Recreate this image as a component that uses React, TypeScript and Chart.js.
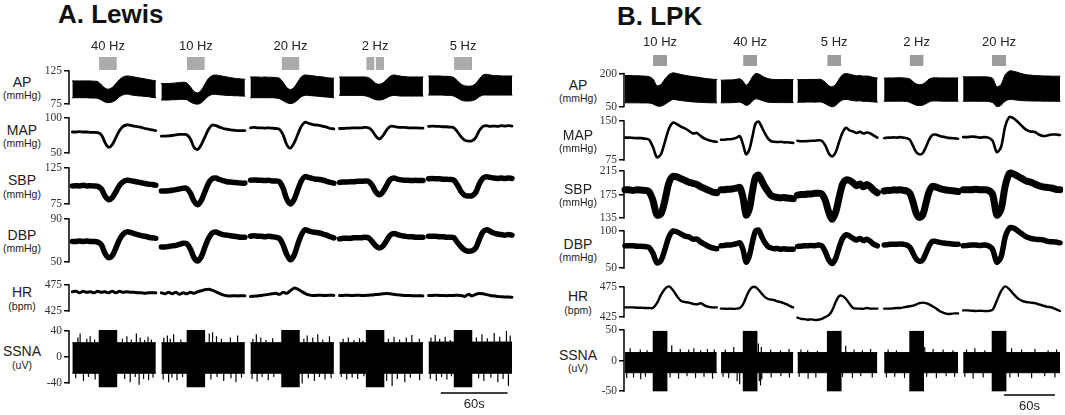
import React, { useEffect, useRef } from "react";
import { Chart, registerables } from "chart.js";

Chart.register(...registerables);

// ======================= DATA =======================
const panelTitles = ["A. Lewis", "B. LPK"];
const rowNames = ["AP", "MAP", "SBP", "DBP", "HR", "SSNA"];
const rowUnits = ["(mmHg)", "(mmHg)", "(mmHg)", "(mmHg)", "(bpm)", "(uV)"];

const freqLabelsA = ["40 Hz", "10 Hz", "20 Hz", "2 Hz", "5 Hz"];
const freqLabelsB = ["10 Hz", "40 Hz", "5 Hz", "2 Hz", "20 Hz"];

// recording segments (seconds on a common time axis)
const segStartA = [0, 80, 160, 240, 320];
const segLenA = [75, 75, 75, 75, 75];
const segStartB = [0, 113, 203, 305, 398];
const segLenB = [108, 85, 94, 87, 114];

// stimulation periods (seconds from segment start)
const stimOnA = [24, 23, 28, 24, 23];
const stimOffA = [40, 39, 44, 40, 39];
const stimSplitA = [false, false, false, true, false];
const stimEdgeA = [false, false, false, false, true];
const stimOnB = [33, 26, 35, 30, 34];
const stimOffB = [49.5, 42.5, 51.5, 46.5, 50.5];
const stimSplitB = [false, false, false, false, false];
const stimEdgeB = [false, false, false, false, false];

// 60 s scale bars (seconds)
const scaleBarA = [331, 391];
const scaleBarB = [446, 506];
const scaleBarLabel = "60s";

// tick labels per row and the visible value window per row
const yTicksA = [[75, 125], [50, 100], [75, 125], [50, 90], [425, 475], [-40, 0, 40]];
const yViewA = [[75, 125], [50, 100], [75, 125], [50, 90], [425, 475], [-40, 40]];
const yTicksB = [[50, 200], [75, 150], [135, 175, 215], [50, 100], [425, 475], [-50, 0, 50]];
const yViewB = [[48, 216], [75, 150], [135, 215], [50, 100], [425, 475], [-50, 50]];

// ---------- Panel A (Lewis) ----------
const apHiA = [
  [110, 110, 110, 110, 110, 110, 109.5, 109, 104, 99, 97.5, 100, 106, 112, 116, 117.5, 117, 116, 115, 114, 113, 112, 111, 110],
  [106, 106, 106, 106.5, 107, 107.5, 108, 107, 101, 94, 92, 96, 105, 114, 118, 119, 118, 117, 116, 115, 114, 113.5, 113, 112.5],
  [116, 116, 116, 115.5, 116, 115.5, 115.5, 115, 114, 108, 100, 97, 100, 108, 116, 119, 118.5, 118, 117, 116.5, 116, 115, 114.5, 114],
  [116, 116, 116, 116, 116, 116, 116, 116, 115, 111, 106, 105, 107, 112, 117, 119, 118, 117, 116.5, 116, 116, 116, 116, 116],
  [117.5, 117.5, 117.5, 117.5, 117, 117, 116.5, 115, 110, 105, 102.5, 102, 102.5, 106, 113, 119, 120, 119, 118, 118, 117.5, 117.5, 117.5, 117.5],
];
const apLoA = [
  [84.5, 84.5, 84.5, 84.5, 84.5, 84, 84, 83.5, 81, 78, 77, 78, 81, 86, 89, 90, 89, 88, 87.5, 87, 86.5, 86, 85, 84.5],
  [81, 81, 81, 81.5, 81.5, 82, 82, 81.5, 78, 75.5, 74.5, 77, 82, 87, 89.5, 89.5, 89, 88.5, 88, 88, 87.5, 87.5, 87, 87],
  [84.5, 84.5, 84.5, 84.5, 84.5, 84.5, 84.5, 84, 83, 80, 77, 75.5, 77, 81, 86, 88, 88, 87.5, 87, 86.5, 86, 85.5, 85, 84.5],
  [88, 88, 88, 88, 88, 88, 88, 87.5, 86, 83.5, 81.5, 81, 82, 84.5, 87, 88, 87.5, 87, 87, 87, 87, 87, 87, 87],
  [88.5, 88.5, 88.5, 88.5, 88.5, 88, 88, 87, 84, 81, 79.5, 79.5, 80, 82, 86, 88.5, 88.5, 88.5, 88.5, 88.5, 88.5, 88.5, 88.5, 88.5],
];
const mapA = [
  [80, 80, 80.5, 80, 80, 79.5, 79.5, 79, 76, 65, 58, 62, 72, 82, 88, 90, 89.5, 88.5, 87.5, 86.5, 85, 84, 83, 82],
  [74, 74, 74.5, 75, 76, 76.5, 76.5, 76, 70, 58, 55, 62, 73, 84, 90, 89, 87, 85, 84, 83, 82.5, 82, 82, 82],
  [86, 86.5, 86, 86, 85.5, 86, 85.5, 85, 84, 76, 62, 57, 64, 76, 88, 94, 92.5, 91, 90, 89.5, 88, 87, 85, 84.5],
  [85, 85, 85.5, 85.5, 86, 86, 86, 86.5, 86, 82, 74, 70, 75, 83, 88, 88, 87, 86.5, 86.5, 86, 86, 86, 85.5, 85.5],
  [88, 88.5, 88, 88, 87.5, 87.5, 87, 86, 80, 73, 68, 67, 67.5, 72, 82, 88, 89, 88, 88.5, 88, 89, 88.5, 89, 88.5],
];
const sbpA = [
  [100, 100.5, 100, 101, 100, 100.5, 100, 99.5, 96, 86, 81, 84, 92, 101, 106, 108, 107.5, 106.5, 105.5, 104.5, 103.5, 102.5, 102, 101],
  [93, 93, 93.5, 94, 95, 96, 97, 96.5, 90, 79, 74, 80, 92, 104, 110, 111, 109, 107.5, 106, 105.5, 105, 104.5, 104, 104],
  [108, 108.5, 108, 108, 107.5, 108, 107, 107, 106, 97, 82, 75, 81, 94, 107, 113, 112, 110.5, 109.5, 109, 108, 106.5, 105, 104],
  [105, 105.5, 105.5, 106, 106, 106.5, 106.5, 107, 106.5, 101, 92, 88, 92, 101, 109, 111, 109.5, 108.5, 108, 108, 107.5, 108, 107.5, 107.5],
  [110, 110.5, 110, 110, 109.5, 109.5, 109, 108, 101, 92, 87, 86, 86.5, 91, 103, 111, 113, 112, 111, 110.5, 111, 110.5, 111, 110.5],
];
const dbpA = [
  [69, 69, 69.5, 69, 69.5, 69, 69, 68.5, 66, 58, 54, 56, 63, 71, 76, 78, 77.5, 76.5, 75.5, 74.5, 74, 73, 72.5, 72],
  [64, 64, 64.5, 65, 65.5, 66.5, 67.5, 67, 62, 54, 51, 55, 64, 72, 77, 78, 76.5, 75.5, 75, 74.5, 74, 73.5, 73, 73],
  [74, 74.5, 74, 74, 73.5, 74, 73.5, 73, 72, 66, 57, 52, 56, 66, 75, 80, 79, 78, 77.5, 77, 76, 75, 73.5, 72.5],
  [71.5, 72, 72, 72, 72.5, 72.5, 72.5, 73, 72.5, 69, 65, 63, 65, 70, 75, 76.5, 75.5, 74.5, 74, 73.5, 73.5, 73, 73, 73],
  [74, 74, 74, 73.5, 73.5, 73, 73, 72.5, 68, 64, 61, 60, 60.5, 63, 71, 78, 80, 78.5, 77, 76, 75.5, 75, 75.5, 75],
];
const hrA = [
  [462, 463, 460, 463, 461, 462, 460, 463, 461, 462, 460, 463, 460, 463, 461, 462, 461, 461, 460, 460, 459, 460, 460, 460],
  [460, 458, 461, 458, 461, 457, 460, 458, 461, 459, 462, 464, 466, 467, 465, 462, 459, 456, 454.5, 454, 454.5, 454, 454.5, 454.5],
  [453, 453.5, 454, 455, 456, 457, 458, 459, 457, 461, 459, 464, 469, 467, 463, 459, 456, 455, 455, 455.5, 455, 455, 455.5, 455],
  [455, 455, 455.5, 455, 455, 455.5, 455, 455, 455.5, 456, 456.5, 457, 458, 458.5, 458, 457, 456, 455.5, 455, 455, 454.5, 454.5, 454.5, 454],
  [455, 455, 455.5, 455, 455, 454.5, 455, 455, 455.5, 455, 453, 457, 454, 457, 458.5, 458, 456.5, 455, 454, 453, 452.5, 452, 452, 451.5],
];
const ssnaCoreHiA = [22, 22, 22, 22, 23];
const ssnaCoreLoA = [-25, -25, -25, -25, -25];
const ssnaBurstHiA = [41, 41, 41, 41, 41];
const ssnaBurstLoA = [-46, -46, -46, -46, -46];
const ssnaSpikesA: number[][][] = [
  [[3, -32], [5, 30], [7, 36], [10, -36], [13, 28], [14.5, -30], [16, 32], [20, 27], [20.5, -34], [45, 28], [47, -33], [49, 32], [52, -38], [53, 27], [56.5, -30], [57.5, 36], [60, -42], [61, 30], [64, -33], [65, 26], [68, 31], [68.5, -35], [71, 27], [72.5, -31]],
  [[1.6, -34], [2.2, 30], [5.4, 33], [6.5, -38], [8, 28], [9.5, -31], [11, 35], [14, -35], [17.5, 27], [19, -30], [43, 36], [44.5, -34], [46, 38], [49.5, 32], [50, -30], [54, 28], [56, -36], [62, 30], [62.5, -32], [67, -38], [68.5, 33], [72, -31]],
  [[1.5, -33], [2.2, 28], [5.3, 35], [6, -37], [9.3, 30], [10.5, -30], [14, 26], [16, -35], [20, 29], [21, -30], [46.5, -40], [48, 28], [51, 33], [52, -32], [56, 30], [57.5, -36], [60.5, 35], [62, -30], [65, 27], [67, -34], [71, 32], [72.5, -32]],
  [[1.6, -30], [3.3, 28], [6.5, -34], [8, 30], [11.4, -31], [13, 26], [16.3, -33], [18, 29], [21, 25], [22, -29], [42.4, -36], [44, 28], [47.3, -44], [49, 31], [52, -33], [54, 27], [58.7, -38], [60, 30], [63.6, -31], [65, 34], [71.7, 28], [72, -35]],
  [[1.6, -33], [2.2, 30], [6, 34], [7, -36], [10, 28], [11.7, -30], [15, 31], [16.5, -34], [19.6, 26], [20.6, -29], [43, 30], [45, -32], [48, 35], [49.7, -36], [52.8, 29], [56, -31], [59, 37], [62.3, -38], [64, 31], [67, -33], [70, 40], [71.8, -44], [73.4, 33]],
];

// ---------- Panel B (LPK) ----------
const apHiB = [
  [191, 191, 190, 190, 189, 188, 186, 175, 145, 150, 175, 195, 203, 200, 196, 192, 189, 186, 184, 181, 178, 176, 174, 173],
  [170, 170, 171, 171, 172, 174, 176, 165, 147, 160, 185, 200, 198, 190, 182, 177, 174, 173, 173, 172.5, 173, 172.5, 172.5, 172.5],
  [172, 172.5, 173, 173, 173.5, 173, 174, 172, 160, 145, 140, 150, 175, 195, 200, 197, 193, 190, 191, 188, 189, 186, 182, 180],
  [179, 180, 180, 180, 180.5, 181, 180, 179, 175, 163, 153, 150, 152, 162, 175, 180, 181, 180, 180, 180, 180, 180, 180, 180],
  [185, 185, 185, 185.5, 185, 185, 184, 178, 140, 150, 195, 212, 210, 205, 199, 195, 193, 191, 190, 189, 189, 188, 188, 188],
];
const apLoB = [
  [67, 67, 67, 67, 66.5, 66.5, 66, 62, 53, 52, 60, 72, 82, 80, 77, 75, 73, 71, 70, 69, 68, 67.5, 67, 67],
  [67, 67, 67.5, 67.5, 68, 69, 70, 64, 55, 60, 75, 85, 83, 78, 73, 70, 69, 68.5, 68, 68, 68, 68, 68, 68],
  [70, 70, 70, 70.5, 70.5, 70, 71, 70, 63, 54, 49, 55, 70, 80, 82, 80, 77, 75, 76, 73, 74, 72, 71, 70],
  [74, 74, 74, 74, 74.5, 74.5, 74, 73, 69, 62, 56, 54.5, 56, 63, 71, 75, 75.5, 75, 74.5, 74, 74, 74, 74, 74],
  [74, 74, 74, 74, 74, 74, 73, 68, 50, 56, 75, 82, 81, 79, 77, 76, 75.5, 75, 75, 74.5, 74.5, 74, 74, 74],
];
const mapB = [
  [118, 118, 117.5, 117, 117, 116, 114, 100, 80, 86, 110, 135, 147, 144, 139, 136, 131, 126, 127, 121, 116, 113, 111, 110],
  [114, 114, 115, 115, 116, 118, 121, 105, 86, 95, 120, 145, 149, 138, 126, 116, 111, 110, 109.5, 110, 109, 109, 108.5, 108],
  [112, 111, 111, 111.5, 112, 112, 113, 112, 103, 88, 82, 90, 110, 128, 137, 132, 130, 127, 129, 126, 128, 126, 122, 118],
  [117, 118, 118, 118.5, 118, 119, 118, 117, 114, 102, 90, 86, 88, 100, 114, 123, 124, 122, 120, 119, 117.5, 117, 116.5, 116],
  [119, 119, 120, 119.5, 118, 119, 118, 112, 90, 100, 140, 158, 155, 148, 140, 133, 130, 129, 124, 121, 122, 124, 124, 123],
];
const sbpB = [
  [183, 183, 182, 183, 182.5, 182, 180, 165, 140, 142, 165, 195, 206, 205, 202, 199, 196, 194, 192, 188, 185, 182, 179, 178],
  [183, 183, 184, 184, 185, 186, 187, 170, 140, 150, 180, 205, 208, 198, 188, 180, 173, 171, 170, 169, 170, 169, 168.5, 168],
  [174, 175, 175, 176, 176, 177, 177, 176, 165, 145, 133, 145, 170, 193, 200, 199, 195, 190, 193, 188, 192, 188, 182, 178],
  [181, 182, 182, 183, 182.5, 183, 182, 181, 177, 162, 143, 136, 140, 160, 180, 189, 188, 186, 184, 183, 182, 181.5, 181, 180],
  [183, 183, 183, 184, 183, 183, 182, 175, 140, 150, 190, 211, 210, 206, 202, 198, 196, 193, 190, 188, 187, 186, 184, 183],
];
const dbpB = [
  [80, 80, 80, 79.5, 79.5, 79, 78, 70, 57, 60, 75, 92, 100, 99, 96, 93, 92, 89, 89, 85, 82, 79, 77, 76],
  [80, 80.5, 81, 81, 82, 83, 84, 75, 58, 66, 85, 100, 101, 92, 84, 79, 77, 76, 76.5, 75.5, 76, 75.5, 75.5, 75.5],
  [79, 79.5, 80, 80, 80.5, 80, 81, 80, 72, 61, 56, 63, 78, 90, 95, 93, 90, 88, 90, 87, 89, 86, 82, 80],
  [81, 81.5, 82, 82, 82, 82.5, 82, 81, 78, 70, 62, 59, 61, 70, 80, 86, 86, 85, 84, 83.5, 83, 82.5, 82, 82],
  [80, 80.5, 81, 81, 80.5, 81, 80, 75, 58, 65, 92, 104, 104, 100, 96, 92, 90, 89, 88.5, 88, 86, 85.5, 85, 84],
];
const hrB = [
  [441, 441, 441, 440.5, 440.5, 440, 440, 440, 448, 462, 472, 476, 470, 460, 452, 450, 449, 447, 446, 448, 444, 442, 441, 441],
  [439, 439, 438.5, 439, 438.5, 439, 440, 446, 458, 469, 475, 475, 470, 464, 458, 455, 454, 453, 451, 450, 448, 446, 443, 441],
  [424, 422, 421.5, 420.5, 421, 420, 420.5, 422, 425, 428, 436, 450, 460, 460, 455, 447, 440, 439, 439, 438.5, 440, 439, 439, 439],
  [439, 439, 439, 439.5, 440, 440, 441, 442, 443, 444, 446, 448, 449, 448, 446, 443, 440, 436, 433, 431, 430, 430.5, 431, 431],
  [436, 436, 435.5, 435, 435.5, 435, 435, 437, 452, 468, 476, 471, 463, 456, 452, 450, 449, 448, 446, 444, 442, 441, 438, 435],
];
const ssnaCoreHiB = [13, 13, 13, 13, 13];
const ssnaCoreLoB = [-20, -20, -20, -20, -20];
const ssnaBurstHiB = [48, 48, 48, 48, 48];
const ssnaBurstLoB = [-50, -50, -50, -50, -50];
const ssnaSpikesB: number[][][] = [
  [[2, -28], [6, 20], [10, -27], [18, 18], [18.5, -30], [24, -26], [26, 17], [53, -27], [55, 25], [63, -29], [65, 19], [73, -25], [75, 18], [81, 20], [83, -28], [89, 17], [93, -26], [97, 19], [103, -29], [105, 18]],
  [[2.4, -26], [5, 18], [9, -28], [15, 22], [19, -33], [22, -38], [44, 28], [45, -33], [46.5, -40], [47.4, 22], [48, -30], [58.5, 18], [59, -27], [70, 17], [70.5, -25], [80, 19], [80.5, -27]],
  [[2, -26], [4, 18], [12, 17], [12.5, -29], [21.6, -27], [23.5, 16], [53, -26], [56.8, 24], [64.7, -28], [66.6, 18], [74.5, -25], [76.4, 17], [86, 19], [88, -27]],
  [[2.7, -27], [4.7, 18], [12.5, -26], [14.5, 17], [24, -28], [47.8, 22], [50, -26], [57.6, 19], [61.5, -28], [69.4, 18], [73, -25], [81, 17], [83, -26]],
  [[2, -26], [4, 18], [11.8, -29], [13.8, 20], [23.6, -27], [25.5, 17], [55, -27], [57, 20], [65, -26], [68.8, 18], [80.6, -28], [84.5, 19], [96, -25], [100, 17], [108, -27], [110, 18]],
];

// ======================= LAYOUT / STYLE =======================
type Panel = {
  title: string; titleLeft: number; titleTop: number;
  freq: string[]; segStart: number[]; segLen: number[];
  stimOn: number[]; stimOff: number[]; stimSplit: boolean[]; stimEdge: boolean[];
  scaleBar: number[]; yTicks: number[][]; yView: number[][];
  apHi: number[][]; apLo: number[][]; map: number[][]; sbp: number[][]; dbp: number[][]; hr: number[][];
  coreHi: number[]; coreLo: number[]; burstHi: number[]; burstLo: number[]; spikes: number[][][];
  axisX: number; right: number; xMin: number; xMax: number;
  rowTop: number[]; rowBottom: number[]; labelX: number;
  stimTop: number; stimBottom: number; stimLabelPad: number; boxColor: string;
  scaleY: number; lineW: number[];
};

const panels: Panel[] = [
  {
    title: panelTitles[0], titleLeft: 58, titleTop: 1,
    freq: freqLabelsA, segStart: segStartA, segLen: segLenA,
    stimOn: stimOnA, stimOff: stimOffA, stimSplit: stimSplitA, stimEdge: stimEdgeA,
    scaleBar: scaleBarA, yTicks: yTicksA, yView: yViewA,
    apHi: apHiA, apLo: apLoA, map: mapA, sbp: sbpA, dbp: dbpA, hr: hrA,
    coreHi: ssnaCoreHiA, coreLo: ssnaCoreLoA, burstHi: ssnaBurstHiA, burstLo: ssnaBurstLoA, spikes: ssnaSpikesA,
    axisX: 69, right: 512, xMin: -3, xMax: 395,
    rowTop: [71, 118, 168, 219, 285, 331], rowBottom: [104, 153, 204, 262, 311, 383], labelX: 22,
    stimTop: 57, stimBottom: 70, stimLabelPad: 3, boxColor: "#ababab",
    scaleY: 393, lineW: [2.8, 5.5, 5.5, 3],
  },
  {
    title: panelTitles[1], titleLeft: 617, titleTop: 3,
    freq: freqLabelsB, segStart: segStartB, segLen: segLenB,
    stimOn: stimOnB, stimOff: stimOffB, stimSplit: stimSplitB, stimEdge: stimEdgeB,
    scaleBar: scaleBarB, yTicks: yTicksB, yView: yViewB,
    apHi: apHiB, apLo: apLoB, map: mapB, sbp: sbpB, dbp: dbpB, hr: hrB,
    coreHi: ssnaCoreHiB, coreLo: ssnaCoreLoB, burstHi: ssnaBurstHiB, burstLo: ssnaBurstLoB, spikes: ssnaSpikesB,
    axisX: 624, right: 1060, xMin: -1.2, xMax: 512,
    rowTop: [74, 121, 171, 231, 287, 330], rowBottom: [107, 160, 218, 268, 317, 391], labelX: 578,
    stimTop: 55, stimBottom: 66, stimLabelPad: 5, boxColor: "#9c9c9c",
    scaleY: 395, lineW: [2.6, 7, 5.5, 2.4],
  },
];

const AXIS_W = 40;
const PAD_V = 10;
const PAD_R = 3;
const XAXIS_H = 22;
const INK = "#000";
const TEXT = "#222";
const SANS = "'Liberation Sans', Arial, sans-serif";
const SERIF = "'Liberation Serif', 'Times New Roman', serif";

// ======================= HELPERS =======================
type Pt = { x: number; y: number | null };

function segPoints(vals: number[], start: number, len: number): Pt[] {
  const n = vals.length;
  return vals.map((v, i) => ({ x: start + (i * len) / (n - 1), y: v }));
}

function joinedLine(segs: number[][], starts: number[], lens: number[]): Pt[] {
  const pts: Pt[] = [];
  segs.forEach((vals, k) => {
    pts.push(...segPoints(vals, starts[k], lens[k]));
    if (k < segs.length - 1) pts.push({ x: starts[k] + lens[k] + 0.5, y: null });
  });
  return pts;
}

function pxPerSec(p: Panel) {
  return (p.right - p.axisX) / (p.xMax - p.xMin);
}

// pixel geometry of a row's chart area, so that the tick values land on rowTop/rowBottom
function rowGeom(p: Panel, r: number) {
  const t = p.yTicks[r];
  const tMin = t[0];
  const tMax = t[t.length - 1];
  const [vMin, vMax] = p.yView[r];
  const ppu = (p.rowBottom[r] - p.rowTop[r]) / (tMax - tMin);
  const areaTop = p.rowTop[r] - (vMax - tMax) * ppu;
  const areaBottom = p.rowBottom[r] + (tMin - vMin) * ppu;
  return { areaTop, areaBottom };
}

function baseOptions() {
  return {
    animation: false as const,
    responsive: false,
    events: [] as any[],
    plugins: { legend: { display: false }, tooltip: { enabled: false }, title: { display: false } },
    elements: { point: { radius: 0 } },
  };
}

function rowConfig(p: Panel, r: number): any {
  const [vMin, vMax] = p.yView[r];
  const ticks = p.yTicks[r];
  const datasets: any[] = [];
  const common = { pointRadius: 0, clip: false as const, borderColor: INK, borderJoinStyle: "round", borderCapStyle: "round" };
  if (r === 0) {
    p.apHi.forEach((hi, k) => {
      datasets.push({ ...common, data: segPoints(hi, p.segStart[k], p.segLen[k]), fill: "+1", backgroundColor: INK, borderWidth: 1, tension: 0.3 });
      datasets.push({ ...common, data: segPoints(p.apLo[k], p.segStart[k], p.segLen[k]), fill: false, borderWidth: 1, tension: 0.3 });
    });
  } else if (r === 5) {
    p.segStart.forEach((s, k) => {
      const e = s + p.segLen[k];
      datasets.push({ ...common, data: [{ x: s, y: p.coreHi[k] }, { x: e, y: p.coreHi[k] }], fill: "+1", backgroundColor: INK, borderWidth: 1, tension: 0, borderCapStyle: "butt" });
      datasets.push({ ...common, data: [{ x: s, y: p.coreLo[k] }, { x: e, y: p.coreLo[k] }], fill: false, borderWidth: 1, tension: 0, borderCapStyle: "butt" });
    });
    const spk: Pt[] = [];
    p.spikes.forEach((list, k) => {
      list.forEach(([t, v]) => {
        const x = p.segStart[k] + t;
        spk.push({ x, y: 0 }, { x, y: v }, { x, y: null });
      });
    });
    datasets.push({ ...common, data: spk, fill: false, borderWidth: 1.2, tension: 0, spanGaps: false, borderCapStyle: "butt" });
    // stimulation bursts
    const w = (p.stimOff[0] - p.stimOn[0]) * pxPerSec(p);
    datasets.push({
      type: "bar",
      data: p.segStart.map((s, k) => ({ x: s + (p.stimOn[k] + p.stimOff[k]) / 2, y: [p.burstLo[k], p.burstHi[k]] })),
      backgroundColor: INK, borderWidth: 0, barThickness: w, grouped: false, clip: false,
    });
  } else {
    const segs = [p.map, p.sbp, p.dbp, p.hr][r - 1];
    datasets.push({
      ...common, data: joinedLine(segs, p.segStart, p.segLen), fill: false,
      borderWidth: p.lineW[r - 1], tension: 0.3, spanGaps: false,
    });
  }
  // axis bracket spine between the first and last tick
  datasets.push({
    data: [{ x: p.xMin, y: ticks[0] }, { x: p.xMin, y: ticks[ticks.length - 1] }],
    borderColor: INK, borderWidth: 1.5, pointRadius: 0, clip: false, fill: false, tension: 0, borderCapStyle: "square",
  });
  return {
    type: "line",
    data: { datasets },
    options: {
      ...baseOptions(),
      layout: { padding: { top: PAD_V, bottom: PAD_V, left: 0, right: PAD_R } },
      scales: {
        x: { type: "linear", min: p.xMin, max: p.xMax, display: false, offset: false },
        y: {
          type: "linear", min: vMin, max: vMax,
          afterFit: (s: any) => { s.width = AXIS_W; },
          afterBuildTicks: (s: any) => { s.ticks = ticks.map((v) => ({ value: v })); },
          border: { display: false },
          grid: { drawOnChartArea: false, drawTicks: true, tickLength: 5, color: INK, lineWidth: 1.5 },
          ticks: { autoSkip: false, padding: 2, color: "#333", font: { family: SERIF, size: 11.5 } },
        },
      },
    },
  };
}

function stimConfig(p: Panel): any {
  const datasets: any[] = [];
  const centers: number[] = [];
  p.segStart.forEach((s, k) => {
    const on = s + p.stimOn[k];
    const off = s + p.stimOff[k];
    centers.push((on + off) / 2);
    const parts = p.stimSplit[k]
      ? [[on, (on + off) / 2 - 0.5], [(on + off) / 2 + 0.5, off]]
      : [[on, off]];
    parts.forEach(([a, b]) => {
      datasets.push({
        data: [{ x: a, y: 1 }, { x: b, y: 1 }], fill: "origin", backgroundColor: p.boxColor,
        borderWidth: 0, pointRadius: 0, tension: 0,
      });
    });
    if (p.stimEdge[k]) {
      datasets.push({
        data: [{ x: off - 0.6, y: 0 }, { x: off - 0.6, y: 1 }], fill: false, borderColor: "#444",
        borderWidth: 1.5, pointRadius: 0, tension: 0,
      });
    }
  });
  return {
    type: "line",
    data: { datasets },
    options: {
      ...baseOptions(),
      layout: { padding: { top: 0, bottom: 1, left: 0, right: PAD_R } },
      scales: {
        x: {
          type: "linear", min: p.xMin, max: p.xMax, position: "top",
          afterFit: (s: any) => { s.height = XAXIS_H; },
          afterBuildTicks: (s: any) => { s.ticks = centers.map((v) => ({ value: v })); },
          grid: { display: false, drawTicks: false }, border: { display: false },
          ticks: {
            autoSkip: false, maxRotation: 0, padding: p.stimLabelPad, color: TEXT,
            font: { family: SANS, size: 13 },
            callback: (_v: any, i: number) => p.freq[i],
          },
        },
        y: { min: 0, max: 1, display: false },
      },
    },
  };
}

function scaleConfig(p: Panel): any {
  const [a, b] = p.scaleBar;
  return {
    type: "line",
    data: {
      datasets: [{ data: [{ x: a, y: 1 }, { x: b, y: 1 }], borderColor: INK, borderWidth: 1.5, pointRadius: 0, clip: false, fill: false }],
    },
    options: {
      ...baseOptions(),
      layout: { padding: { top: 3, bottom: 0, left: 0, right: PAD_R } },
      scales: {
        x: {
          type: "linear", min: p.xMin, max: p.xMax, position: "bottom",
          afterFit: (s: any) => { s.height = 18; },
          afterBuildTicks: (s: any) => { s.ticks = [{ value: (a + b) / 2 }]; },
          grid: { display: false, drawTicks: false }, border: { display: false },
          ticks: { autoSkip: false, maxRotation: 0, padding: 3, color: TEXT, font: { family: SANS, size: 13 }, callback: () => scaleBarLabel },
        },
        y: { min: 0, max: 1, display: false },
      },
    },
  };
}

// ======================= COMPONENTS =======================
function ChartBox({ left, top, width, height, make }: { left: number; top: number; width: number; height: number; make: () => any }) {
  const ref = useRef<HTMLCanvasElement>(null);
  useEffect(() => {
    const chart = new Chart(ref.current as HTMLCanvasElement, make());
    return () => chart.destroy();
  }, []);
  return (
    <canvas
      ref={ref}
      width={Math.round(width)}
      height={Math.round(height)}
      style={{ position: "absolute", left, top, width: Math.round(width), height: Math.round(height) }}
    />
  );
}

export default function App() {
  return (
    <div
      style={{
        position: "fixed", left: 0, top: 0, width: 1065, height: 415, background: "#fff",
        overflow: "hidden", fontFamily: SANS, color: TEXT,
      }}
    >
      {panels.map((p, pi) => (
        <React.Fragment key={pi}>
          <div
            style={{
              position: "absolute", left: p.titleLeft, top: p.titleTop, fontSize: 26, fontWeight: 700,
              lineHeight: "26px", whiteSpace: "nowrap", color: "#111",
            }}
          >
            {p.title}
          </div>
          {rowNames.map((name, r) => {
            const mid = (p.rowTop[r] + p.rowBottom[r]) / 2;
            const g = rowGeom(p, r);
            const top = Math.round(g.areaTop - PAD_V);
            const height = Math.round(g.areaBottom + PAD_V) - top;
            return (
              <React.Fragment key={r}>
                <div style={{ position: "absolute", left: p.labelX, top: mid - 6, transform: "translate(-50%, -50%)", fontSize: 14, lineHeight: 1, whiteSpace: "nowrap" }}>
                  {name}
                </div>
                <div style={{ position: "absolute", left: p.labelX, top: mid + 7.5, transform: "translate(-50%, -50%)", fontSize: 10.5, lineHeight: 1, whiteSpace: "nowrap" }}>
                  {rowUnits[r]}
                </div>
                <ChartBox
                  left={p.axisX - AXIS_W}
                  top={top}
                  width={p.right + PAD_R - (p.axisX - AXIS_W)}
                  height={height}
                  make={() => rowConfig(p, r)}
                />
              </React.Fragment>
            );
          })}
          <ChartBox
            left={p.axisX}
            top={p.stimTop - XAXIS_H}
            width={p.right + PAD_R - p.axisX}
            height={XAXIS_H + (p.stimBottom - p.stimTop) + 1}
            make={() => stimConfig(p)}
          />
          <ChartBox
            left={p.axisX}
            top={p.scaleY - 3}
            width={p.right + PAD_R - p.axisX}
            height={3 + 1 + 18}
            make={() => scaleConfig(p)}
          />
        </React.Fragment>
      ))}
    </div>
  );
}
